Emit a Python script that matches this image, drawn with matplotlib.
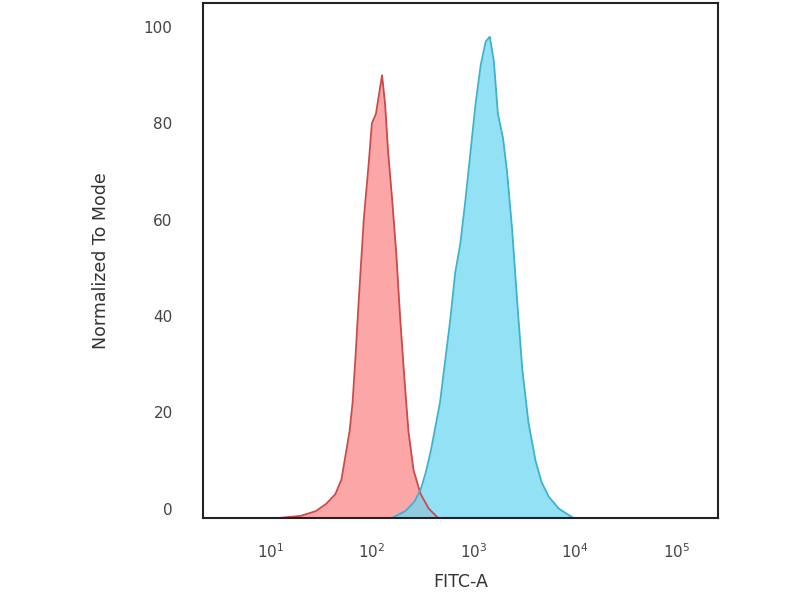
import numpy as np
import matplotlib
matplotlib.use('Agg')
import matplotlib.pyplot as plt

# isotype control (red) - log10 of FITC-A and % of mode
red_log = [1.10, 1.30, 1.45, 1.55, 1.64, 1.70, 1.74, 1.78, 1.81, 1.84, 1.87, 1.92, 1.97, 2.00,
           2.04, 2.07, 2.10, 2.13, 2.16, 2.20, 2.24, 2.28, 2.32, 2.36, 2.41, 2.48, 2.56, 2.65]
red_y = [-1.9, -1.5, -0.5, 1, 3, 6, 11, 16, 22, 32, 43, 60, 72, 80,
         82, 86, 90, 84, 74, 64, 53, 39, 27, 16, 8, 3, 0, -1.9]

# stained sample (blue)
blue_log = [2.20, 2.33, 2.42, 2.48, 2.53, 2.58, 2.67, 2.77, 2.82, 2.87, 2.92, 2.97, 3.02, 3.07,
            3.12, 3.16, 3.20, 3.24, 3.29, 3.33, 3.38, 3.43, 3.48, 3.54, 3.61, 3.67, 3.74, 3.84, 3.98]
blue_y = [-1.9, -0.5, 1.5, 4, 7.5, 12, 22, 39, 49, 55, 64, 74, 84, 92,
          97, 98, 93, 82, 77, 70, 58, 43, 29, 18, 10, 5.5, 2.5, 0, -1.9]

yticks = [0, 20, 40, 60, 80, 100]
xticks = [1e1, 1e2, 1e3, 1e4, 1e5]

fig = plt.figure(figsize=(8, 6), dpi=100)
ax = fig.add_axes([0.254, 0.137, 0.644, 0.858])

rx = 10 ** np.array(red_log)
bx = 10 ** np.array(blue_log)
ax.fill_between(rx, red_y, -1.9, color='#fb8a8a', alpha=0.75, lw=0)
ax.plot(rx, red_y, color='#cc4a4a', lw=1.3)
ax.fill_between(bx, blue_y, -1.9, color='#6fd8f2', alpha=0.75, lw=0)
ax.plot(bx, blue_y, color='#3fb2cc', lw=1.3)

ax.set_xscale('log')
ax.set_xlim(10 ** 0.34, 10 ** 5.41)
ax.set_ylim(-1.9, 105)
ax.set_xticks(xticks)
ax.minorticks_off()
ax.set_yticks(yticks)
ax.tick_params(axis='both', length=0, labelsize=11, colors='#444444')
ax.tick_params(axis='y', pad=22)
ax.tick_params(axis='x', pad=18)

for s in ax.spines.values():
    s.set_color('#222222')
    s.set_linewidth(1.5)

ax.set_ylabel('Normalized To Mode', fontsize=12.5, color='#333333', labelpad=24)
ax.set_xlabel('FITC-A', fontsize=12.5, color='#333333', labelpad=8)

fig.savefig('out.png', dpi=100, facecolor='white')
